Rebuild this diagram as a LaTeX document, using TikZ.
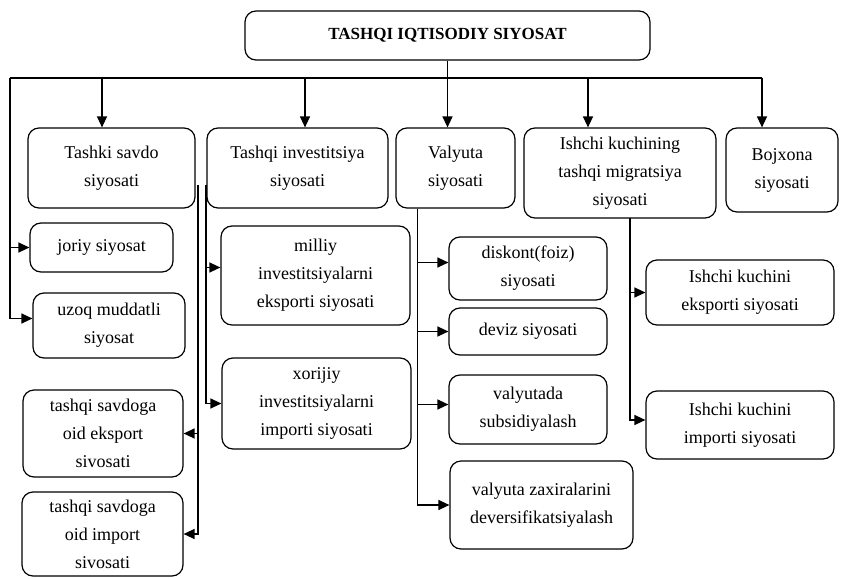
\documentclass[tikz,border=0pt]{standalone}
\usepackage{fontspec}
\setmainfont{Liberation Serif}
\usetikzlibrary{positioning, arrows.meta, calc}

\begin{document}
\begin{tikzpicture}[
    x=1pt, y=-1pt,
    box/.style={draw, rectangle, rounded corners=11pt, line width=1.2pt, align=center, inner sep=2pt, font=\fontsize{18}{28}\selectfont, fill=white},
    titlebox/.style={box, font=\fontsize{17}{20}\selectfont\bfseries},
    ln/.style={line width=1.3pt, black},
    arr/.style={ln, -{Triangle[length=11pt, width=10pt]}}
]

% fixed frame of the page
\useasboundingbox (0,0) rectangle (842,578);

% Top block
\node[titlebox, minimum width=405pt, minimum height=49pt] (top) at (447.5,35.5) {TASHQI IQTISODIY SIYOSAT};

% First level
\node[box, minimum width=167pt, minimum height=80pt] (sav) at (111.5,168) {Tashki savdo\\siyosati};
\node[box, minimum width=181pt, minimum height=80pt] (inv) at (297.5,168) {Tashqi investitsiya\\siyosati};
\node[box, minimum width=119pt, minimum height=80pt] (val) at (455.5,168) {Valyuta\\siyosati};
\node[box, minimum width=192pt, minimum height=90pt] (ish) at (620,173) {Ishchi kuchining\\tashqi migratsiya\\siyosati};
\node[box, minimum width=112pt, minimum height=84pt] (boj) at (782,170) {Bojxona\\siyosati};

% Bus from the top block
\coordinate (bL) at (10,78);
\coordinate (b1) at (102,78);
\coordinate (b2) at (305,78);
\coordinate (b4) at (588,78);
\coordinate (b5) at (762,78);
\draw[ln] (top.south) -- (top.south |- bL);
\draw[ln] (bL) -- (b5);
\draw[arr] (b1) -- (b1 |- sav.north);
\draw[arr] (b2) -- (b2 |- inv.north);
\draw[arr] (top.south |- bL) -- (top.south |- val.north);
\draw[arr] (b4) -- (b4 |- ish.north);
\draw[arr] (b5) -- (b5 |- boj.north);

% Tashki savdo branch
\node[box, minimum width=143pt, minimum height=49pt] (jor) at (101.5,247.5) {joriy siyosat};
\node[box, minimum width=152pt, minimum height=65pt] (uzo) at (109,325.5) {uzoq muddatli\\siyosat};
\node[box, minimum width=160pt, minimum height=87pt] (eks) at (103,433.5) {tashqi savdoga\\oid eksport\\sivosati};
\node[box, minimum width=161pt, minimum height=84pt] (imp) at (102.5,534) {tashqi savdoga\\oid import\\sivosati};
\draw[arr] (bL |- jor.west) -- (jor.west);
\draw[arr] (bL) |- ([yshift=7pt]uzo.west);
\coordinate (sR) at (198,185);
\draw[arr] (sR) |- (eks.east);
\draw[arr] (sR) |- (imp.east);

% Tashqi investitsiya branch
\node[box, minimum width=189pt, minimum height=99pt] (mil) at (315.5,275.5) {milliy\\investitsiyalarni\\eksporti siyosati};
\node[box, minimum width=189pt, minimum height=91pt] (xor) at (316.5,403.5) {xorijiy\\investitsiyalarni\\importi siyosati};
\coordinate (iL) at (206,185);
\draw[arr] (iL) |- ([yshift=8pt]mil.west);
\draw[arr] (iL) |- (xor.west);

% Valyuta branch
\node[box, minimum width=158pt, minimum height=63pt] (dis) at (528,268.5) {diskont(foiz)\\siyosati};
\node[box, minimum width=158pt, minimum height=47pt] (dev) at (528,331.5) {deviz siyosati};
\node[box, minimum width=158pt, minimum height=69pt] (sub) at (528,409.5) {valyutada\\subsidiyalash};
\node[box, minimum width=183pt, minimum height=88pt] (zax) at (541.5,505) {valyuta zaxiralarini\\deversifikatsiyalash};
\coordinate (vL) at ([xshift=22pt]val.south west);
\draw[arr] (vL) |- ([yshift=6pt]dis.west);
\draw[arr] (vL) |- (dev.west);
\draw[arr] (vL) |- ([yshift=5pt]sub.west);
\draw[arr] (vL) |- (zax.west);

% Ishchi kuchi branch
\node[box, minimum width=188pt, minimum height=65pt] (ieks) at (740,292.5) {Ishchi kuchini\\eksporti siyosati};
\node[box, minimum width=188pt, minimum height=68pt] (iimp) at (740,425) {Ishchi kuchini\\importi siyosati};
\coordinate (wL) at (630,218);
\draw[arr] (wL) |- (ieks.west);
\draw[arr] (wL) |- ([yshift=5pt]iimp.west);

\end{tikzpicture}
\end{document}
